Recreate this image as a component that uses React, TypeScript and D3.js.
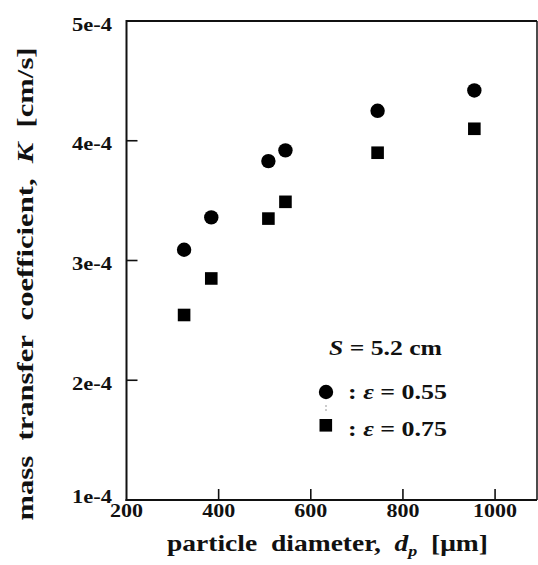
import React from "react";
import * as d3 from "d3";

const dpCircle = [325, 384, 508, 545, 745, 955];
const kCircle = [3.09e-4, 3.36e-4, 3.83e-4, 3.92e-4, 4.25e-4, 4.42e-4];
const dpSquare = [325, 384, 508, 545, 745, 955];
const kSquare = [2.545e-4, 2.85e-4, 3.35e-4, 3.49e-4, 3.9e-4, 4.1e-4];
const xTicks = [200, 400, 600, 800, 1000];
const yTicks = [1e-4, 2e-4, 3e-4, 4e-4, 5e-4];
const yTickLabels = ["1e-4", "2e-4", "3e-4", "4e-4", "5e-4"];

const W = 538;
const H = 565;
const FONT = "Liberation Serif";
const pre = { whiteSpace: "pre" as const };

export default function App() {
  const x = d3.scaleLinear().domain([200, 1091]).range([126.5, 537]);
  const y = d3.scaleLinear().domain([1e-4, 5e-4]).range([500, 21]);
  const x0 = x(200);
  const x1 = x(1091);
  const y0 = y(1e-4);
  const y1 = y(5e-4);

  return (
    <svg
      width={W}
      height={H}
      style={{ position: "absolute", left: 0, top: 0, background: "#fff" }}
      fontFamily={FONT}
      fontWeight="bold"
    >
      <rect x={0} y={0} width={W} height={H} fill="#fff" />
      {/* frame */}
      <line x1={x0} y1={y1} x2={x1} y2={y1} stroke="#111" strokeWidth={1.8} />
      <line x1={x1} y1={y1} x2={x1} y2={y0} stroke="#111" strokeWidth={1.5} />
      <line x1={x0} y1={y1 - 1} x2={x0} y2={y0 + 1} stroke="#111" strokeWidth={2} />
      <line x1={x0 - 1} y1={y0} x2={x1} y2={y0} stroke="#111" strokeWidth={2} />

      {/* y ticks */}
      {yTicks.map((t, i) => (
        <g key={"yt" + i}>
          {t > 1e-4 && t < 5e-4 && (
            <line x1={x0} x2={x0 + 11} y1={y(t)} y2={y(t)} stroke="#111" strokeWidth={1.6} />
          )}
          <text
            x={112}
            y={y(t) + (i === 0 ? 3 : 9.5)}
            textAnchor="end"
            fontSize={18}
            textLength={40}
            lengthAdjust="spacingAndGlyphs"
            fill="#111"
          >
            {yTickLabels[i]}
          </text>
        </g>
      ))}

      {/* x ticks */}
      {xTicks.map((t, i) => (
        <g key={"xt" + i}>
          {t > 200 && (
            <line x1={x(t)} x2={x(t)} y1={y0} y2={y0 - 11} stroke="#111" strokeWidth={1.6} />
          )}
          <text
            x={x(t)}
            y={517}
            textAnchor="middle"
            fontSize={18}
            textLength={t >= 1000 ? 44 : 33}
            lengthAdjust="spacingAndGlyphs"
            fill="#111"
          >
            {String(t)}
          </text>
        </g>
      ))}

      {/* data */}
      {dpCircle.map((d, i) => (
        <circle key={"c" + i} cx={x(d)} cy={y(kCircle[i])} r={7.2} fill="#000" />
      ))}
      {dpSquare.map((d, i) => (
        <rect
          key={"s" + i}
          x={x(d) - 6.3}
          y={y(kSquare[i]) - 6.3}
          width={12.6}
          height={12.6}
          fill="#000"
        />
      ))}

      {/* legend */}
      <text x={329} y={355} fontSize={20} fill="#111" textLength={113} lengthAdjust="spacingAndGlyphs" style={pre}>
        <tspan fontStyle="italic">S</tspan>
        <tspan>{" = 5.2 cm"}</tspan>
      </text>
      <circle cx={326} cy={392} r={7.2} fill="#000" />
      <line x1={326} x2={326} y1={405} y2={412} stroke="#999" strokeWidth={1} strokeDasharray="2,2" />
      <text x={348} y={399} fontSize={20} fill="#111" textLength={99} lengthAdjust="spacingAndGlyphs" style={pre}>
        <tspan>{": "}</tspan>
        <tspan fontStyle="italic">ε</tspan>
        <tspan>{" = 0.55"}</tspan>
      </text>
      <rect x={319.5} y={419} width={12.6} height={12.6} fill="#000" />
      <text x={348} y={436} fontSize={20} fill="#111" textLength={99} lengthAdjust="spacingAndGlyphs" style={pre}>
        <tspan>{": "}</tspan>
        <tspan fontStyle="italic">ε</tspan>
        <tspan>{" = 0.75"}</tspan>
      </text>

      {/* axis titles */}
      <text x={167} y={551} fontSize={23} fill="#111" textLength={321} lengthAdjust="spacingAndGlyphs" style={pre}>
        <tspan>{"particle  diameter,  "}</tspan>
        <tspan fontStyle="italic">d</tspan>
        <tspan fontStyle="italic" fontSize={15} dy={5}>p</tspan>
        <tspan dy={-5}>{"  [μm]"}</tspan>
      </text>
      <text
        transform="translate(33,284) rotate(-90)"
        x={0}
        y={0}
        textAnchor="middle"
        fontSize={23}
        fill="#111"
        textLength={473}
        lengthAdjust="spacingAndGlyphs"
        style={pre}
      >
        <tspan>{"mass  transfer  coefficient,  "}</tspan>
        <tspan fontStyle="italic">K</tspan>
        <tspan>{"  [cm/s]"}</tspan>
      </text>
    </svg>
  );
}
